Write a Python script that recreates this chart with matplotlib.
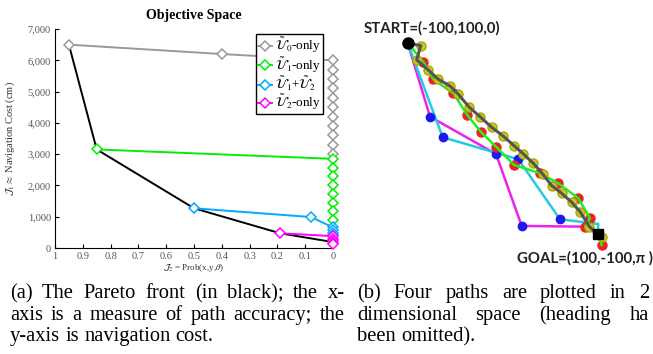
import numpy as np
import matplotlib
matplotlib.use("Agg")
import matplotlib.pyplot as plt


# -----------------------------
# Objective space data (left panel)
# -----------------------------
u0_x = [0.95, 0.40]
u0_y = [6500, 6200]
u0_stack = [6000, 5700, 5400, 5100, 4800, 4500, 4200, 3900, 3600, 3300, 3000]

u1_x = [0.85]
u1_y = [3150]
u1_stack = [2850, 2570, 2290, 2010, 1730, 1450, 1170, 890]

u12_x = [0.50, 0.08]
u12_y = [1270, 990]
u12_stack = [660, 570, 480, 400]

u2_x = [0.19]
u2_y = [470]
u2_stack = [380, 300, 230, 170, 120]

front_x = [0.95, 0.85, 0.50, 0.19, 0.0]
front_y = [6500, 3150, 1270, 470, 190]

x_ticks = [1, 0.9, 0.8, 0.7, 0.6, 0.5, 0.4, 0.3, 0.2, 0.1, 0]
x_tick_labels = ["1", "0.9", "0.8", "0.7", "0.6", "0.5", "0.4", "0.3", "0.2", "0.1", "0"]
y_ticks = [0, 1000, 2000, 3000, 4000, 5000, 6000, 7000]
y_tick_labels = ["0", "1,000", "2,000", "3,000", "4,000", "5,000", "6,000", "7,000"]

# -----------------------------
# Path data (right panel), world units
# -----------------------------
start_xy = (-100, 100)
goal_xy = (100, -100)

# gray path with yellow waypoints
gray_x = [-100, -86.3, -90.5, -78.3, -67.8, -55.5, -46.7, -35.2, -23.9, -11.6, 0.0,
          11.9, 21.7, 32.2, 42.1, 51.6, 62.1, 72.6, 81.4, 91.2, 100, 104.2]
gray_y = [100, 97.5, 82.5, 72.0, 62.3, 55.3, 46.6, 33.0, 23.1, 12.0, 3.2,
          -7.2, -15.9, -25.7, -36.9, -49.1, -57.1, -66.5, -76.3, -92.0, -100, -103.1]

# green path with red waypoints
green_x = [-100, -83.6, -73.1, -52.0, -37.3, -23.2, -7.1, 11.9, 39.3, 58.5, 79.6,
           91.9, 86.6, 100, 104.2]
green_y = [100, 80.7, 62.3, 47.6, 24.9, 7.4, -8.3, -27.4, -36.1, -46.6, -62.3,
           -83.2, -92.0, -100, -111.2]

# magenta path with blue waypoints
magenta_x = [-100, -76.5, -7.1, 20.0, 86.6, 100]
magenta_y = [100, 23.1, -15.9, -91.3, -92.0, -100]

# cyan path with blue waypoints
cyan_x = [-100, -63.2, 16.4, 60.3, 100.6, 100]
cyan_y = [100, 1.6, -21.5, -84.3, -89.2, -100]

# -----------------------------
# Captions
# -----------------------------
caption_a = ["(a) The Pareto front (in black); the x-",
             "axis is a measure of path accuracy; the",
             "y-axis is navigation cost."]
caption_b = ["(b) Four paths are plotted in 2",
             "dimensional space (heading ha",
             "been omitted)."]

W, H = 653, 354
SERIF = "Liberation Serif"

plt.rcParams["mathtext.fontset"] = "stix"
plt.rcParams["font.family"] = SERIF


def px_box(x0, y0, x1, y1):
    # pixel box (top-left origin) -> figure fraction rect
    return [x0 / W, 1 - y1 / H, (x1 - x0) / W, (y1 - y0) / H]


# -----------------------------
# Left panel
# -----------------------------
def plot_objective_space(fig):

    ax = fig.add_axes(px_box(55, 29, 333, 248))

    ms = 5
    ax.plot(front_x, front_y, color="black", lw=1.4, zorder=2)

    series = [
        (u0_x, u0_y, u0_stack, "#999999", r"$\tilde{\mathcal{U}}_0$-only"),
        (u1_x, u1_y, u1_stack, "#00ee00", r"$\tilde{\mathcal{U}}_1$-only"),
        (u12_x, u12_y, u12_stack, "#00aaff", r"$\tilde{\mathcal{U}}_1$+$\tilde{\mathcal{U}}_2$"),
        (u2_x, u2_y, u2_stack, "#ff00ff", r"$\tilde{\mathcal{U}}_2$-only"),
    ]
    for xs, ys, stack, col, lab in series:
        x_all = list(xs) + [0] * len(stack)
        y_all = list(ys) + list(stack)
        ax.plot(x_all, y_all, color=col, lw=1.4, marker="D", ms=ms,
                mfc="white", mec=col, mew=1.1, label=lab, clip_on=False, zorder=3)

    ax.set_xlim(1, 0)
    ax.set_ylim(0, 7000)
    ax.set_xticks(x_ticks)
    ax.set_xticklabels(x_tick_labels)
    ax.set_yticks(y_ticks)
    ax.set_yticklabels(y_tick_labels)
    ax.tick_params(direction="in", length=3, labelsize=7.5, labelcolor="#555555", pad=3)

    ax.spines["top"].set_visible(False)
    ax.spines["right"].set_visible(False)

    ax.set_title("Objective Space", fontsize=10, fontweight="bold", pad=7)
    ax.set_ylabel(r"$\mathcal{J}_1 \approx$ Navigation Cost (cm)", fontsize=7.5, color="#333333")
    ax.yaxis.set_label_coords(-0.137, 0.5)
    ax.set_xlabel(r"$\mathcal{J}_2$ = Prob(x,y,$\theta$)", fontsize=6.5, color="#333333")
    ax.xaxis.set_label_coords(0.5, -0.065)

    leg = ax.legend(loc="upper right", bbox_to_anchor=(0.964, 0.977), borderaxespad=0,
                    fontsize=9.5, handlelength=1.0, handletextpad=0.25, labelspacing=0.0,
                    borderpad=0.15, fancybox=False, framealpha=1, edgecolor="black")
    leg.get_frame().set_linewidth(1.0)


# -----------------------------
# Right panel
# -----------------------------
def plot_paths(fig):

    ax = fig.add_axes(px_box(355, 0, 653, 270))
    ax.set_xlim(-155.5, 158.2)
    ax.set_ylim(-137.4, 145.3)
    ax.axis("off")

    ax.plot(magenta_x, magenta_y, color="#ee22ee", lw=1.8, zorder=2)
    ax.plot(cyan_x, cyan_y, color="#22ccdd", lw=1.8, zorder=2)
    ax.plot(magenta_x[1:-2], magenta_y[1:-2], "o", color="#1a1aee", ms=6, zorder=3)
    ax.plot(cyan_x[1:-2], cyan_y[1:-2], "o", color="#1a1aee", ms=6, zorder=3)

    ax.plot(green_x[1:], green_y[1:], "o", color="#ee2020", ms=6.5, zorder=4)
    ax.plot(green_x, green_y, color="#22ee22", lw=1.8, zorder=5)

    ax.plot(gray_x[1:], gray_y[1:], "o", color="#c8c828", mec="#a8a800", ms=6.5, zorder=6)
    ax.plot(gray_x, gray_y, color="#555555", lw=2.2, zorder=7)

    ax.plot(*start_xy, "o", color="black", ms=8, zorder=8)
    ax.plot(*goal_xy, "s", color="black", ms=7, zorder=8)

    ax.text(-74.4, 116, "START=(-100,100,0)", ha="center", va="center",
            fontsize=10.8, family="Lato", fontweight="bold", color="#222222")
    ax.text(86.6, -124.7, "GOAL=(100,-100,\u03c0 )", ha="center", va="center",
            fontsize=10.8, family="Lato", fontweight="bold", color="#222222")


# -----------------------------
# Captions (justified like the paper)
# -----------------------------
def put_line(fig, line, x0, x1, y, justify, size=14.8):

    words = line.split(" ")
    texts = [fig.text(0, 1 - y / H, w, fontsize=size, family=SERIF, va="baseline")
             for w in words]
    r = fig.canvas.get_renderer()
    widths = [t.get_window_extent(r).width for t in texts]
    if justify and len(words) > 1:
        gap = (x1 - x0 - sum(widths)) / (len(words) - 1)
    else:
        gap = size * 100 / 72 * 0.25
    x = x0
    for t, w in zip(texts, widths):
        t.set_x(x / W)
        x += w + gap


def main():

    fig = plt.figure(figsize=(W / 100, H / 100), dpi=100)

    plot_objective_space(fig)
    plot_paths(fig)

    baselines = [298, 320, 341]
    for i, line in enumerate(caption_a):
        put_line(fig, line, 10, 345, baselines[i], justify=(i < 2))
    for i, line in enumerate(caption_b):
        put_line(fig, line, 357, 649, baselines[i], justify=(i < 2))

    fig.savefig("out.png", dpi=100)


if __name__ == "__main__":
    main()
